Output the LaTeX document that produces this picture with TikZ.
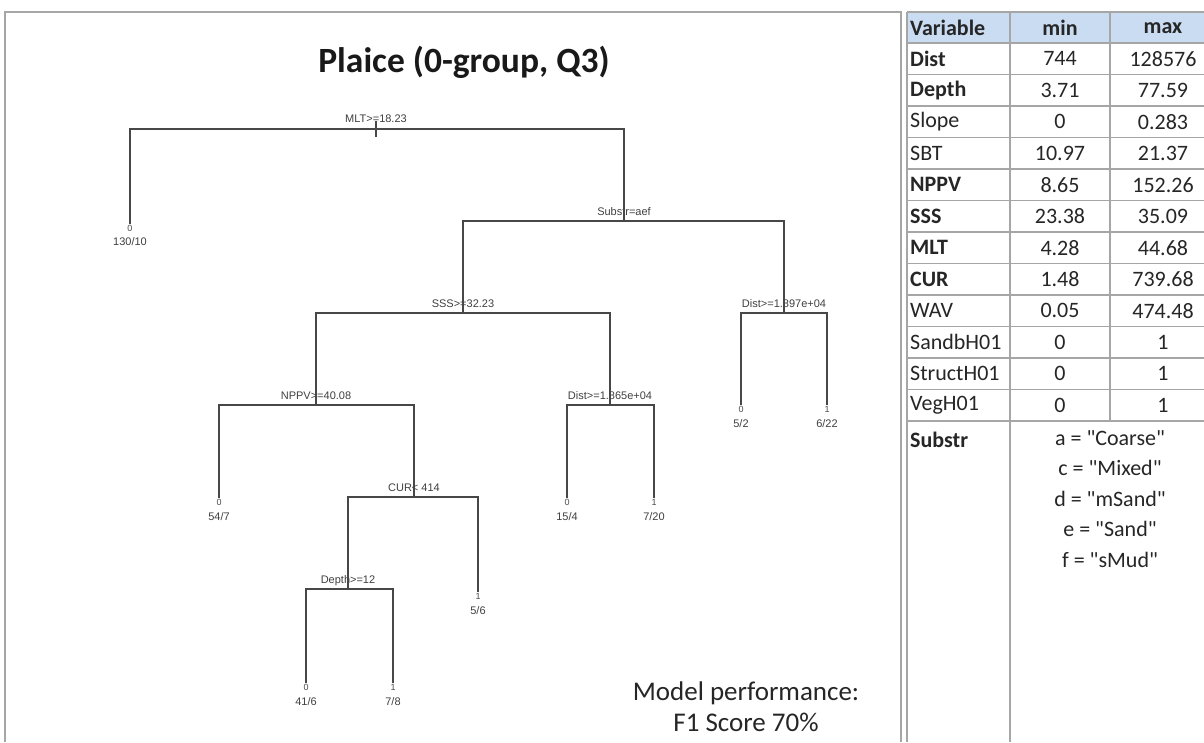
\documentclass[tikz,border=0pt]{standalone}
\usepackage{fontspec}
\setmainfont{Carlito}
\newfontfamily\treefont{Liberation Sans}
\definecolor{hdr}{HTML}{C9DCF2}
\definecolor{gridl}{HTML}{A6A6A6}
\definecolor{tline}{HTML}{474747}
\begin{document}
\begin{tikzpicture}[x=1pt,y=-1pt,
  branch/.style={draw=tline, line width=1.5pt},
  splitlbl/.style={font=\treefont\fontsize{11}{13}\selectfont, text=black!75, inner sep=0, anchor=base},
  cls/.style={font=\treefont\fontsize{9}{10}\selectfont, text=black!70, inner sep=0.5pt},
  cnt/.style={font=\treefont\fontsize{11}{13}\selectfont, text=black!75, inner sep=0},
  cell/.style={font=\fontsize{22}{26}\selectfont, text=black!85, inner sep=0},
  frame/.style={draw=gridl, line width=2pt},
  grid/.style={draw=gridl, line width=1.5pt}]
\useasboundingbox (0,0) rectangle (1204,742);
\fill[white] (0,0) rectangle (1204,742);

% panel frame
\draw[frame] (5,742) -- (5,12) -- (901,12) -- (901,742);

% title
\node[font=\bfseries\fontsize{35.5}{42}\selectfont, text=black!90] (title) at (464,62) {Plaice (0-group, Q3)};

% split points
\coordinate (root) at (376,129);
\coordinate (substr) at (624,221);
\coordinate (sss) at (463,313);
\coordinate (dist2) at (784,313);
\coordinate (nppv) at (316,405);
\coordinate (dist1) at (610,405);
\coordinate (cur) at (414,497);
\coordinate (depth) at (348,589);

% split labels
\node[splitlbl] (lroot) at (376,122) {MLT>=18.23};
\node[splitlbl] (lsubstr) at (624,215) {Substr=aef};
\node[splitlbl] (lsss) at (463,307) {SSS>=32.23};
\node[splitlbl] (ldist2) at (784,307) {Dist>=1.897e+04};
\node[splitlbl] (lnppv) at (316,399) {NPPV>=40.08};
\node[splitlbl] (ldist1) at (610,399) {Dist>=1.865e+04};
\node[splitlbl] (lcur) at (414,491) {CUR< 414};
\node[splitlbl] (ldepth) at (348,583) {Depth>=12};

% leaves
\node[cls] (l1) at (130,228) {0};  \node[cnt] (n1) at (130,242) {130/10};
\node[cls] (l2) at (741,409) {0};  \node[cnt] (n2) at (741,424) {5/2};
\node[cls] (l3) at (827,409) {1};  \node[cnt] (n3) at (827,424) {6/22};
\node[cls] (l4) at (219,502) {0};  \node[cnt] (n4) at (219,517) {54/7};
\node[cls] (l5) at (567,502) {0};  \node[cnt] (n5) at (567,517) {15/4};
\node[cls] (l6) at (654,502) {1};  \node[cnt] (n6) at (654,517) {7/20};
\node[cls] (l7) at (478,596) {1};  \node[cnt] (n7) at (478,611) {5/6};
\node[cls] (l8) at (306,687) {0};  \node[cnt] (n8) at (306,702) {41/6};
\node[cls] (l9) at (393,687) {1};  \node[cnt] (n9) at (393,702) {7/8};

% branches
\draw[branch] ([yshift=-8pt]root) -- ([yshift=8pt]root);
\draw[branch] (root) -| (l1.north);
\draw[branch] (root) -| (substr);
\draw[branch] (substr) -| (sss);
\draw[branch] (substr) -| (dist2);
\draw[branch] (sss) -| (nppv);
\draw[branch] (sss) -| (dist1);
\draw[branch] (dist2) -| (l2.north);
\draw[branch] (dist2) -| (l3.north);
\draw[branch] (nppv) -| (l4.north);
\draw[branch] (nppv) -| (cur);
\draw[branch] (dist1) -| (l5.north);
\draw[branch] (dist1) -| (l6.north);
\draw[branch] (cur) -| (depth);
\draw[branch] (cur) -| (l7.north);
\draw[branch] (depth) -| (l8.north);
\draw[branch] (depth) -| (l9.north);

% model performance
\node[font=\fontsize{27}{30}\selectfont, text=black!85, align=center] (perf) at (746,707) {Model performance:\\[1pt]F1 Score 70\%};

% table
\fill[hdr] (907,12) rectangle (1204,43);
\draw[grid] (907,12) -- (1204,12);
\foreach \k in {0,...,12} {
  \draw[grid] (907,{43+31.5*\k}) -- (1204,{43+31.5*\k});
}
\draw[frame] (907,12) -- (907,742);
\draw[grid] (1010,12) -- (1010,742);
\draw[grid] (1110,12) -- (1110,421);

\node[cell, font=\bfseries\fontsize{22}{26}\selectfont, anchor=west] (hv) at (910,28) {Variable};
\node[cell, font=\bfseries\fontsize{22}{26}\selectfont] (hmin) at (1060,28) {min};
\node[cell, font=\bfseries\fontsize{22}{26}\selectfont] (hmax) at (1163,28) {max};

\foreach \nm/\mn/\mx/\b [count=\i] in {
  Dist/744/128576/1, Depth/3.71/77.59/1, Slope/0/0.283/0, SBT/10.97/21.37/0,
  NPPV/8.65/152.26/1, SSS/23.38/35.09/1, MLT/4.28/44.68/1, CUR/1.48/739.68/1,
  WAV/0.05/474.48/0, SandbH01/0/1/0, StructH01/0/1/0, VegH01/0/1/0} {
  \node[cell, anchor=west] (var\i) at (910,{43+31.5*(\i-0.5)}) {\ifnum\b=1 \bfseries\fi\nm};
  \node[cell] (min\i) at (1060,{43+31.5*(\i-0.5)}) {\mn};
  \node[cell] (max\i) at (1163,{43+31.5*(\i-0.5)}) {\mx};
}

\node[cell, font=\bfseries\fontsize{22}{26}\selectfont, anchor=west] (vsub) at (910,440) {Substr};
\node[cell, align=center, font=\fontsize{22}{30.5}\selectfont, anchor=north] (subvals) at (1110,430) {a = \textquotedbl Coarse\textquotedbl\\c = \textquotedbl Mixed\textquotedbl\\d = \textquotedbl mSand\textquotedbl\\e = \textquotedbl Sand\textquotedbl\\f = \textquotedbl sMud\textquotedbl};
\end{tikzpicture}
\end{document}
